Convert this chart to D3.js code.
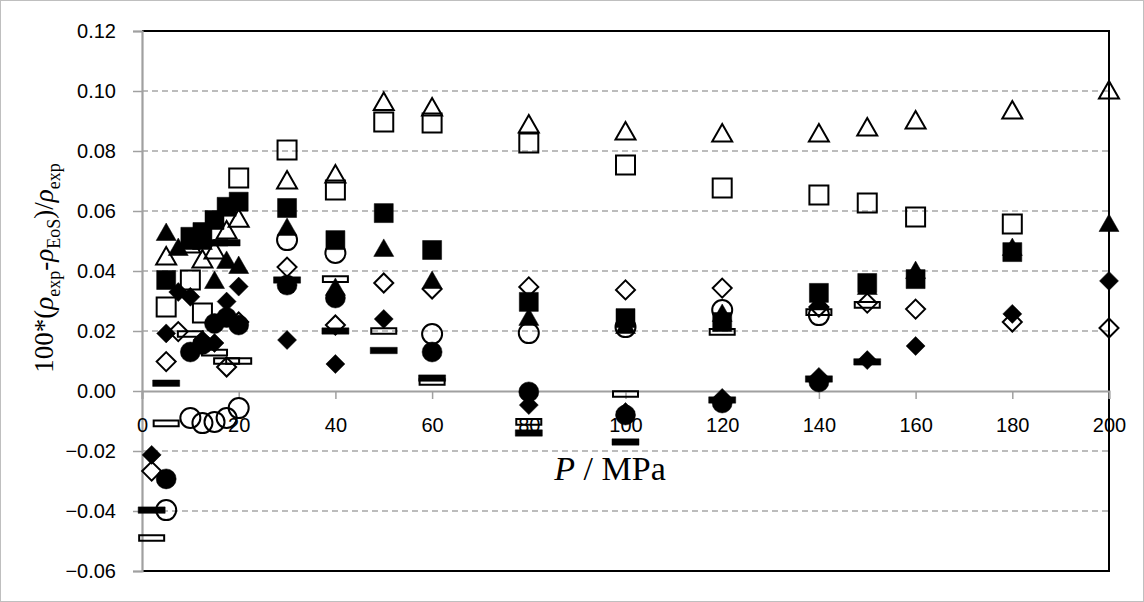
<!DOCTYPE html>
<html><head><meta charset="utf-8">
<script src="https://cdn.jsdelivr.net/npm/d3@7"></script>
<style>body{margin:0;background:#fff} svg{display:block}</style>
</head><body><svg id="c" width="1144" height="602"></svg>
<script>
const xTicks = [0,20,40,60,80,100,120,140,160,180,200];
const yTicks = [-0.06,-0.04,-0.02,0.00,0.02,0.04,0.06,0.08,0.10,0.12];

// open triangle
const triOpenP = [5,10,12.5,15,17.5,20,30,40,50,60,80,100,120,140,150,160,180,200];
const triOpenV = [0.045,0.049,0.044,0.047,0.0537,0.0576,0.0703,0.0723,0.0965,0.0947,0.089,0.0867,0.086,0.086,0.088,0.0903,0.0937,0.1003];
// open square
const sqOpenP = [5,10,12.5,20,30,40,50,60,80,100,120,140,150,160,180];
const sqOpenV = [0.028,0.037,0.026,0.071,0.0803,0.067,0.0897,0.0893,0.0827,0.0753,0.0677,0.0653,0.0627,0.058,0.0557];
// filled square
const sqFillP = [5,10,12.5,15,17.5,20,30,40,50,60,80,100,120,140,150,160,180];
const sqFillV = [0.037,0.0514,0.053,0.057,0.0614,0.0631,0.061,0.0503,0.0593,0.047,0.0297,0.0243,0.023,0.0327,0.036,0.0373,0.0463];
// filled triangle
const triFillP = [5,7.5,10,12.5,15,17.5,20,30,40,50,60,80,100,120,140,150,160,180,200];
const triFillV = [0.053,0.048,0.050,0.050,0.037,0.0437,0.042,0.0547,0.0347,0.0477,0.037,0.0247,0.022,0.026,0.030,0.035,0.0403,0.048,0.056];
// open circle
const cirOpenP = [5,10,12.5,15,17.5,20,30,40,60,80,100,120,140];
const cirOpenV = [-0.0397,-0.009,-0.0107,-0.0103,-0.009,-0.0057,0.0503,0.046,0.019,0.0193,0.0213,0.027,0.0253];
// filled circle
const cirFillP = [5,10,12.5,15,17.5,20,30,40,60,80,100,120,140];
const cirFillV = [-0.0293,0.013,0.0155,0.0225,0.0245,0.022,0.0353,0.031,0.013,-0.0003,-0.008,-0.004,0.003];
// open diamond
const diaOpenP = [2,5,7.5,17.5,20,30,40,50,60,80,100,120,140,150,160,180,200];
const diaOpenV = [-0.0267,0.0098,0.0198,0.008,0.023,0.0413,0.022,0.036,0.034,0.0347,0.0337,0.0343,0.028,0.0293,0.0273,0.023,0.021];
// filled diamond
const diaFillP = [2,5,7.5,10,12.5,15,17.5,20,30,40,50,80,100,120,140,150,160,180,200];
const diaFillV = [-0.0213,0.0192,0.033,0.0314,0.017,0.016,0.0298,0.0348,0.017,0.009,0.024,-0.0047,-0.007,-0.0023,0.0047,0.0103,0.015,0.0257,0.0367];
// filled dash
const dashFillP = [2,5,15,17.5,30,40,50,60,80,100,120,140,150];
const dashFillV = [-0.0397,0.0026,0.0494,0.0494,0.037,0.020,0.0135,0.0043,-0.014,-0.017,-0.003,0.004,0.0097];
// open dash
const dashOpenP = [2,5,10,15,17.5,20,40,50,60,80,100,120,140,150];
const dashOpenV = [-0.049,-0.0108,0.019,0.0128,0.010,0.010,0.0373,0.020,0.003,-0.0103,-0.001,0.0197,0.0263,0.0287];

const W = 1144, H = 602;
const L = 142, R = 1109, T = 31, B = 571;
const svg = d3.select('#c');
const x = d3.scaleLinear().domain([0,200]).range([L,R]);
const y = d3.scaleLinear().domain([-0.06,0.12]).range([B,T]);

svg.append('rect').attr('x',0.5).attr('y',0.5).attr('width',W-1).attr('height',H-1)
  .attr('fill','#fff').attr('stroke','#bfbfbf').attr('stroke-width',1);

// gridlines
svg.append('g').selectAll('line').data(yTicks.filter(v => Math.abs(v) > 1e-9 && v > -0.059 && v < 0.119))
  .join('line').attr('x1',L).attr('x2',R).attr('y1',d=>y(d)).attr('y2',d=>y(d))
  .attr('stroke','#a6a6a6').attr('stroke-width',1.3).attr('stroke-dasharray','6,4');

// plot border (top, right, bottom)
svg.append('path').attr('d',`M${L},${T}H${R}V${B}H${L}`)
  .attr('stroke','#000').attr('stroke-width',2).attr('fill','none');

// y axis
const yAxis = d3.axisLeft(y).tickValues(yTicks).tickFormat(d3.format('.2f')).tickSize(9).tickPadding(17);
const gy = svg.append('g').attr('transform',`translate(${L},0)`).call(yAxis);
gy.select('.domain').attr('stroke','#a0a0a0').attr('stroke-width',2.2);
gy.selectAll('.tick line').attr('stroke','#a0a0a0').attr('stroke-width',1.5);
gy.selectAll('.tick text').attr('font-family','"Liberation Sans", Arial, sans-serif').attr('font-size',20).attr('fill','#000');

// x axis at y=0
const xAxis = d3.axisBottom(x).tickValues(xTicks).tickFormat(d3.format('d')).tickSize(8).tickPadding(19);
const gx = svg.append('g').attr('transform',`translate(0,${y(0)})`).call(xAxis);
gx.select('.domain').attr('stroke','#a0a0a0').attr('stroke-width',2);
gx.selectAll('.tick line').attr('stroke','#a0a0a0').attr('stroke-width',1.5);
gx.selectAll('.tick text').attr('font-family','"Liberation Sans", Arial, sans-serif').attr('font-size',20).attr('fill','#000');

// marker shapes
const shapes = {
  triangle: 'M0,-9L10,8.5L-10,8.5Z',
  square: 'M-9.5,-9.5H9.5V9.5H-9.5Z',
  circle: 'M10,0A10,10 0 1 1 -10,0A10,10 0 1 1 10,0Z',
  diamond: 'M0,-9.5L9.5,0L0,9.5L-9.5,0Z',
  dash: 'M-13.5,-3.2H13.5V3.2H-13.5Z',
  dashOpen: 'M-12.5,-2.8H12.5V2.8H-12.5Z'
};
const series = [
  {P: cirOpenP, V: cirOpenV, shape: 'circle', filled: false},
  {P: diaOpenP, V: diaOpenV, shape: 'diamond', filled: false},
  {P: sqOpenP, V: sqOpenV, shape: 'square', filled: false},
  {P: triOpenP, V: triOpenV, shape: 'triangle', filled: false},
  {P: dashOpenP, V: dashOpenV, shape: 'dashOpen', filled: false},
  {P: sqFillP, V: sqFillV, shape: 'square', filled: true},
  {P: triFillP, V: triFillV, shape: 'triangle', filled: true},
  {P: cirFillP, V: cirFillV, shape: 'circle', filled: true},
  {P: diaFillP, V: diaFillV, shape: 'diamond', filled: true},
  {P: dashFillP, V: dashFillV, shape: 'dash', filled: true}
];
series.forEach(s => {
  const pts = s.P.map((p,i) => [p, s.V[i]]);
  svg.append('g').selectAll('path').data(pts).join('path')
    .attr('transform', d => `translate(${x(d[0])},${y(d[1])})`)
    .attr('d', shapes[s.shape])
    .attr('fill', s.filled ? '#000' : 'none')
    .attr('stroke', '#000')
    .attr('stroke-width', s.filled ? 0.5 : 2);
});

// axis titles
const yt = svg.append('text').attr('transform','translate(53,268) rotate(-90)')
  .attr('text-anchor','middle').attr('font-family','"Liberation Serif", "Times New Roman", serif').attr('font-size',27).attr('fill','#000');
yt.append('tspan').text('100*(');
yt.append('tspan').attr('font-style','italic').text('ρ');
yt.append('tspan').attr('font-size',18).attr('dy',7).text('exp');
yt.append('tspan').attr('dy',-7).text('-');
yt.append('tspan').attr('font-style','italic').text('ρ');
yt.append('tspan').attr('font-size',18).attr('dy',7).text('EoS');
yt.append('tspan').attr('dy',-7).text(')/');
yt.append('tspan').attr('font-style','italic').text('ρ');
yt.append('tspan').attr('font-size',18).attr('dy',7).text('exp');

const xt = svg.append('text').attr('x',610).attr('y',480).attr('text-anchor','middle')
  .attr('font-family','"Liberation Serif", "Times New Roman", serif').attr('font-size',34).attr('fill','#000');
xt.append('tspan').attr('font-style','italic').text('P');
xt.append('tspan').text(' / MPa');
</script>
</body></html>
